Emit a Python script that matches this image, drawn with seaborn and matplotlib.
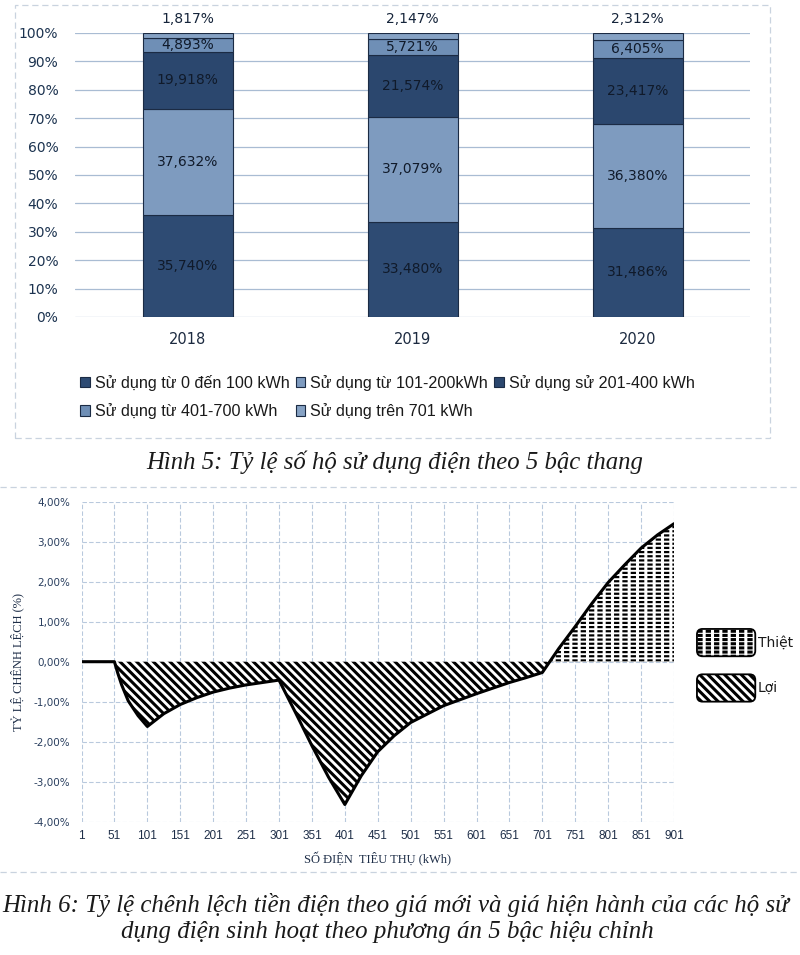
import numpy as np
import matplotlib
matplotlib.use("Agg")
import matplotlib.pyplot as plt
import seaborn as sns
from matplotlib.patches import Patch, FancyBboxPatch
from matplotlib.legend_handler import HandlerPatch, HandlerTuple
from matplotlib.lines import Line2D

# Hinh 5 data
years = ["2018", "2019", "2020"]
tiers = ["Sử dụng từ 0 đến 100 kWh", "Sử dụng từ 101-200kWh", "Sử dụng sử 201-400 kWh",
         "Sử dụng từ 401-700 kWh", "Sử dụng trên 701 kWh"]
share_0_100 = [35.740, 33.480, 31.486]
share_101_200 = [37.632, 37.079, 36.380]
share_201_400 = [19.918, 21.574, 23.417]
share_401_700 = [4.893, 5.721, 6.405]
share_701_up = [1.817, 2.147, 2.312]

# Hinh 6 data
kwh = [1, 51, 56, 62, 72, 87, 101, 126, 151, 176, 201, 226, 251, 276, 301,
       326, 351, 376, 401, 426, 451, 476, 501, 551, 601, 651, 676, 701,
       726, 751, 776, 801, 826, 851, 876, 901]
diff_pct = [0, 0, -0.28, -0.58, -0.98, -1.35, -1.62, -1.30, -1.07, -0.90, -0.76, -0.66, -0.58, -0.52, -0.46,
            -1.27, -2.10, -2.88, -3.57, -2.85, -2.25, -1.85, -1.52, -1.10, -0.80, -0.52, -0.40, -0.27,
            0.33, 0.88, 1.45, 1.98, 2.42, 2.84, 3.17, 3.45]
x_ticks = list(range(1, 902, 50))
y_ticks = [-4, -3, -2, -1, 0, 1, 2, 3, 4]

sns.set_theme(style="white")
plt.rcParams["font.family"] = ["DejaVu Sans"]
plt.rcParams["hatch.linewidth"] = 2.2

fig = plt.figure(figsize=(8, 9.55), dpi=100)
W, H = 800, 955

# frames of the two scanned charts
fig.add_artist(plt.Rectangle((15 / W, 1 - 438 / H), 755 / W, 433 / H, transform=fig.transFigure,
                             fill=False, edgecolor="#c9d3df", lw=0.9, ls=(0, (5, 3))))
fig.add_artist(Line2D([0, 1], [1 - 487 / H] * 2, transform=fig.transFigure, color="#c9d3df", lw=0.9, ls=(0, (5, 3))))
fig.add_artist(Line2D([0, 1], [1 - 872 / H] * 2, transform=fig.transFigure, color="#c9d3df", lw=0.9, ls=(0, (5, 3))))

# ---- stacked bars ----
ax1 = fig.add_axes([75 / W, 1 - 317 / H, 675 / W, 284 / H])
colors = ["#2e4b73", "#7e9bbf", "#2b476e", "#6f8fb6", "#86a2c4"]
series = [share_0_100, share_101_200, share_201_400, share_401_700, share_701_up]
xpos = np.arange(len(years))
bottom = np.zeros(len(years))
for i, (vals, col, lab) in enumerate(zip(series, colors, tiers)):
    vals = np.array(vals)
    ax1.bar(xpos, vals, 0.4, bottom=bottom, color=col, edgecolor="#1b2b44",
            linewidth=0.8, label=lab, zorder=2)
    for x, v, b in zip(xpos, vals, bottom):
        txt = f"{v:.3f}%".replace(".", ",")
        if i == len(series) - 1:
            ax1.annotate(txt, (x, 100), xytext=(0, 5), textcoords="offset points",
                         ha="center", va="bottom", fontsize=10, color="#15243a")
        else:
            ax1.text(x, b + v / 2, txt, ha="center", va="center", fontsize=10, color="#101a2a", zorder=3)
    bottom += vals

ax1.set_xlim(-0.5, 2.5)
ax1.set_ylim(0, 100)
ax1.set_yticks(range(0, 101, 10))
ax1.set_yticklabels([f"{v}%" for v in range(0, 101, 10)])
ax1.set_xticks(xpos)
ax1.set_xticklabels(years)
ax1.tick_params(axis="y", length=0, pad=12, labelsize=10, labelcolor="#1c3350")
ax1.tick_params(axis="x", length=0, pad=11, labelsize=10.5, labelcolor="#1c2a40")
ax1.yaxis.grid(True, color="#a9bcd3", lw=0.9)
ax1.set_axisbelow(True)
sns.despine(ax=ax1, left=True, bottom=True)

h, l = ax1.get_legend_handles_labels()
order = [0, 3, 1, 4, 2]
fig.legend([h[k] for k in order], [l[k] for k in order], loc="upper left",
           bbox_to_anchor=(72 / W, 1 - 367 / H), ncol=3, frameon=False,
           prop={"family": "Liberation Sans", "size": 11.6}, borderpad=0,
           handlelength=0.6, handleheight=0.6, handletextpad=0.3,
           columnspacing=0.4, labelspacing=0.75, labelcolor="#1a1a1a")

fig.text(0.494, 1 - 462 / H, "Hình 5: Tỷ lệ số hộ sử dụng điện theo 5 bậc thang",
         ha="center", va="center", family="Liberation Serif", style="italic", fontsize=17.8, color="#1a1a1a")

# ---- difference curve ----
ax2 = fig.add_axes([81.5 / W, 1 - 821.7 / H, 592.5 / W, 320 / H])
xk = np.array(kwh, dtype=float)
yd = np.array(diff_pct)
ax2.fill_between(xk, yd, 0, where=yd <= 0, interpolate=True, facecolor="white",
                 edgecolor="black", hatch="\\\\\\\\", linewidth=0, zorder=2)
with plt.rc_context({"hatch.linewidth": 1.6}):
    ax2.fill_between(xk, yd, 0, where=yd >= 0, interpolate=True, facecolor="white",
                     edgecolor="black", hatch="----", linewidth=0, zorder=2)
ax2.fill_between(xk, yd, 0, where=yd >= 0, interpolate=True, facecolor="none",
                 edgecolor="white", hatch="||", linewidth=0, zorder=2.1)
sns.lineplot(x=kwh, y=diff_pct, color="black", linewidth=2.2, ax=ax2, zorder=3)

ax2.set_xlim(1, 901)
ax2.set_ylim(-4, 4)
ax2.set_xticks(x_ticks)
ax2.set_yticks(y_ticks)
ax2.set_yticklabels([f"{v:.2f}%".replace(".", ",") for v in y_ticks])
ax2.tick_params(axis="y", length=0, pad=8, labelsize=7.5, labelcolor="#2a3f5f")
ax2.tick_params(axis="x", length=0, pad=6, labelsize=8.5, labelcolor="#1e2e48")
for t in ax2.get_xticklabels():
    t.set_family("Liberation Sans")
ax2.grid(True, color="#b9c9dd", lw=0.8, ls=(0, (4, 2)))
ax2.set_axisbelow(True)
sns.despine(ax=ax2, left=True, bottom=True)
ax2.set_xlabel("SỐ ĐIỆN  TIÊU THỤ (kWh)", family="Liberation Serif", fontsize=9, color="#1e2e48", labelpad=7)
ax2.set_ylabel("TỶ LỆ CHÊNH LỆCH (%)", family="Liberation Serif", fontsize=9, color="#1e2e48", labelpad=7)


def rounded_patch(legend, orig_handle, xdescent, ydescent, width, height, fontsize):
    return FancyBboxPatch((-xdescent, -ydescent), width, height,
                          boxstyle="round,pad=0,rounding_size=4")


with plt.rc_context({"hatch.linewidth": 1.6}):
    dash_patch = Patch(facecolor="white", edgecolor="black", hatch="----", linewidth=0)
thiet = (dash_patch,
         Patch(facecolor="none", edgecolor="white", hatch="||", linewidth=0),
         Patch(facecolor="none", edgecolor="black", linewidth=1.3))
loi = (Patch(facecolor="white", edgecolor="black", hatch="\\\\\\\\", linewidth=0),
       Patch(facecolor="none", edgecolor="black", linewidth=1.3))
fig.legend([thiet, loi], ["Thiệt", "Lợi"], loc="upper left",
           bbox_to_anchor=(690 / W, 1 - 622 / H), frameon=False, borderpad=0,
           handler_map={tuple: HandlerTuple(ndivide=1, pad=0),
                        Patch: HandlerPatch(patch_func=rounded_patch)},
           handlelength=4.2, handleheight=2.65, handletextpad=0.2, labelspacing=1.3,
           prop={"family": "DejaVu Sans", "size": 10}, labelcolor="#1a1a1a")

fig.text(0.494, 1 - 905 / H,
         "Hình 6: Tỷ lệ chênh lệch tiền điện theo giá mới và giá hiện hành của các hộ sử",
         ha="center", va="center", family="Liberation Serif", style="italic", fontsize=17.9, color="#1a1a1a")
fig.text(0.484, 1 - 932 / H, "dụng điện sinh hoạt theo phương án 5 bậc hiệu chỉnh",
         ha="center", va="center", family="Liberation Serif", style="italic", fontsize=17.9, color="#1a1a1a")

fig.savefig("out.png", dpi=100)
